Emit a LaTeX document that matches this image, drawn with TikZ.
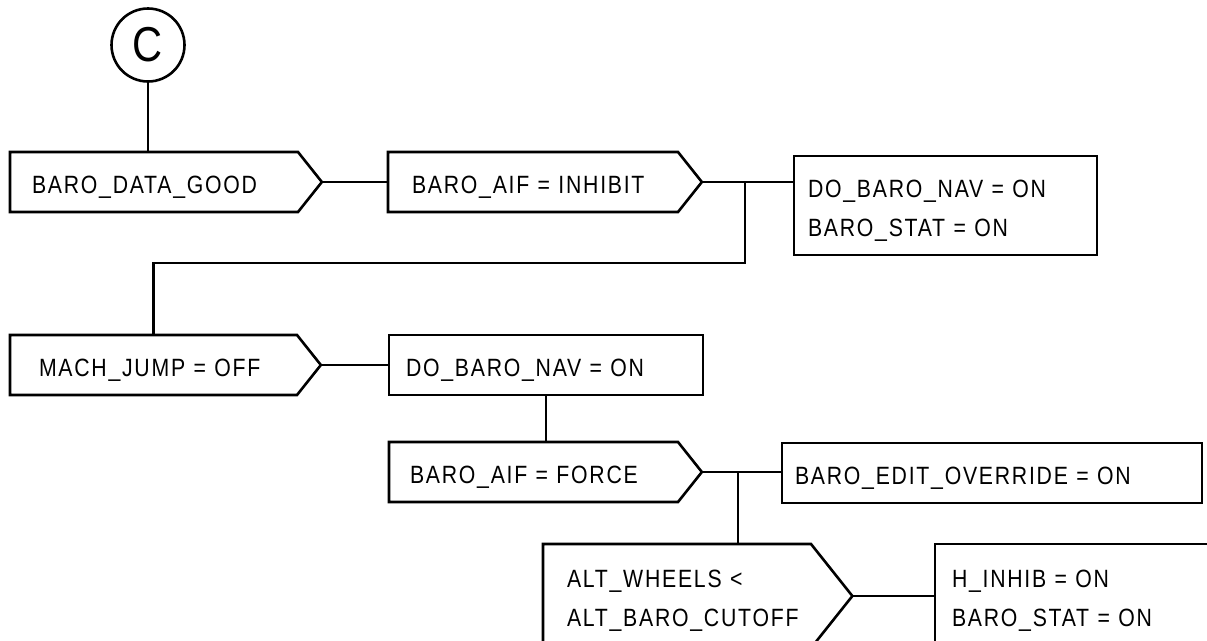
\documentclass[tikz,border=0pt]{standalone}
\usepackage{fontspec}
\setmainfont{Liberation Sans}[FakeStretch=0.85, LetterSpace=7]
\usetikzlibrary{shapes.symbols, positioning, calc}

\tikzset{
  cond/.style={signal, signal to=east, signal pointer angle=103, draw,
    anchor=west, align=left, minimum height=60pt, inner ysep=0pt,
    outer sep=0pt, execute at begin node={\rule{0pt}{27pt}}},
  act/.style={rectangle, draw, anchor=north west, align=left,
    inner ysep=0pt, outer sep=0pt,
    execute at begin node={\rule{0pt}{27pt}}},
}

\begin{document}
\begin{tikzpicture}[x=1pt, y=-1pt, line width=2.6pt,
    font=\fontsize{25}{39}\selectfont]
  \useasboundingbox (0,0) rectangle (1207,640);
  \clip (0,0) rectangle (1207,640);

  \node[circle, draw, minimum size=73pt, inner sep=0pt,
        font=\fontsize{49}{49}\selectfont] (cc) at (148,45) {C};

  % first row
  \node[cond, text width=244pt, inner xsep=22pt] (gd) at (10,182)
    {BARO\_DATA\_GOOD};
  \node[cond, text width=242pt, inner xsep=24pt] (inhibit) at (388,182)
    {BARO\_AIF = INHIBIT};
  \node[act, text width=275pt, inner xsep=14pt, minimum height=99pt]
    (navstat) at (794,156) {DO\_BARO\_NAV = ON\\BARO\_STAT = ON};

  % second row
  \node[cond, text width=229pt, inner xsep=29pt] (mach) at (10,365)
    {MACH\_JUMP = OFF};
  \node[act, text width=280pt, inner xsep=17pt, minimum height=60pt]
    (nav) at (389,335) {DO\_BARO\_NAV = ON};

  % third row
  \node[cond, text width=247pt, inner xsep=21pt] (force) at (389,472)
    {BARO\_AIF = FORCE};
  \node[act, text width=394pt, inner xsep=13pt, minimum height=60pt]
    (edit) at (782,443) {BARO\_EDIT\_OVERRIDE = ON};
  \node[cond, text width=220pt, inner xsep=24pt, minimum height=104pt,
        execute at begin node={}]
    (wheels) at (543,596) {ALT\_WHEELS <\\ALT\_BARO\_CUTOFF};
  \node[act, text width=306pt, inner xsep=17pt, minimum height=104pt]
    (hinhib) at (935,544) {H\_INHIB = ON\\BARO\_STAT = ON};

  \draw (cc) -- (cc |- gd.north);
  \draw (gd.east) -- (inhibit.west);
  \draw (inhibit.east) -- (inhibit.east -| navstat.west);
  \coordinate (split1) at ([xshift=43pt]inhibit.east);
  \draw (split1) -- ++(0,81) -| (mach.north);
  \draw (mach.east) -- (mach.east -| nav.west);
  \draw (nav.south) -- (nav.south |- force.north);
  \draw (force.east) -- (force.east -| edit.west);
  \coordinate (split2) at ([xshift=36pt]force.east);
  \draw (split2) -- (split2 |- wheels.north);
  \draw (wheels.east) -- (wheels.east -| hinhib.west);
\end{tikzpicture}
\end{document}
